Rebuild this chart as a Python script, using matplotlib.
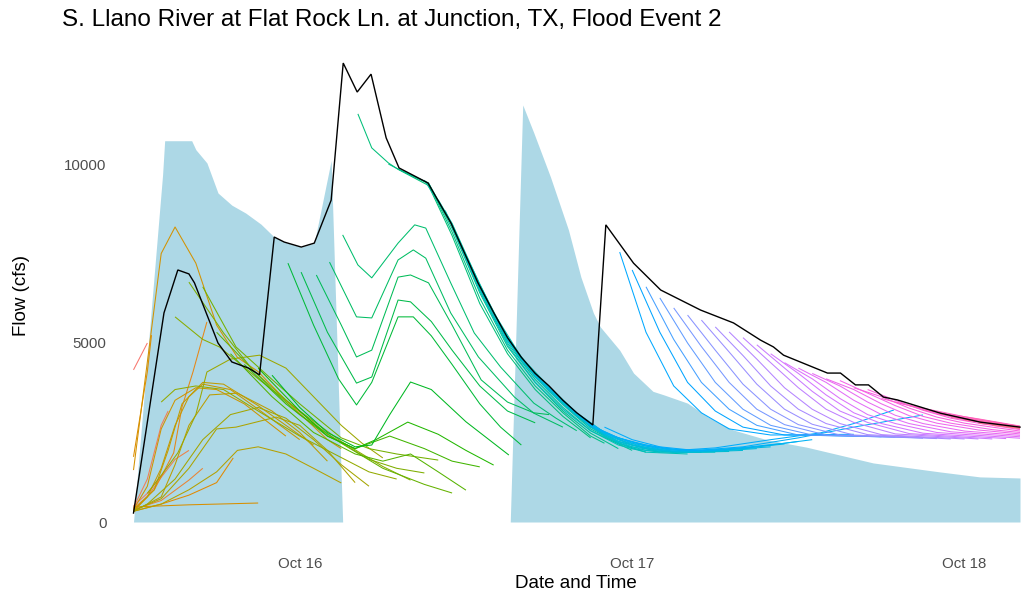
import numpy as np
import matplotlib
matplotlib.use("Agg")
import matplotlib.pyplot as plt

# ---------------- data (hours relative to 2018-10-16 00:00) ----------------
BASE = np.datetime64("2018-10-16T00:00")

title = "S. Llano River at Flat Rock Ln. at Junction, TX, Flood Event 2"
x_title = "Date and Time"
y_title = "Flow (cfs)"
y_ticks = [0, 5000, 10000]
x_tick_labels = ["Oct 16", "Oct 17", "Oct 18"]
x_tick_hours = [0, 24, 48]

# light-blue area (two segments separated by a gap)
area_hours_a = [-12, -9.9, -9.75, -7.8, -7.5, -6.7, -5.9, -4.9, -3.9, -2.8, -1.84, -1.12, 0.11, 1.05, 2.27, 3.1]
area_vals_a = [0, 9700, 10650, 10650, 10400, 10030, 9190, 8850, 8630, 8320, 7960, 7820, 7680, 7790, 10100, 0]
area_hours_b = [15.2, 16.1, 16.9, 18.1, 19.4, 20.3, 21.2, 21.7, 23.1, 24.1, 25.5, 26.3, 28, 29.5, 31.3, 33.8, 36.6, 41.4, 46.2, 49.1, 52]
area_vals_b = [0, 11650, 10870, 9640, 8160, 6840, 5840, 5450, 4800, 4160, 3650, 3550, 3320, 2930, 2570, 2290, 2090, 1650, 1400, 1260, 1230]

# black line
obs_hours = [-12, -9.8, -8.8, -8, -7.6, -5.9, -4.9, -3.7, -2.9, -1.84, -1.12, 0.11, 1.05, 2.27, 3.14, 4.15,
             5.15, 6.24, 7.17, 9.26, 10.92, 12.87, 14, 15, 16, 17, 18, 19, 20, 21.16, 22.1, 24.1, 26.06, 28.94,
             31.32, 33.27, 34.2, 34.93, 38.1, 39.04, 40.12, 41.06, 42.14, 43.15, 46.25, 49.13, 52]
obs_vals = [250, 5840, 7040, 6930, 6680, 5000, 4470, 4300, 4110, 7960, 7820, 7680, 7790, 8990, 12820, 12010,
            12510, 10730, 9890, 9470, 8350, 6680, 5850, 5150, 4600, 4150, 3800, 3400, 3050, 2710, 8300, 7230, 6480, 5920,
            5560, 5080, 4890, 4660, 4160, 4160, 3830, 3830, 3490, 3410, 3040, 2790, 2650]

# forecast runs, one list of (hour, flow) per issue time, in issue order
fc_early = [
    [(-12, 4250), (-11, 5000)],
    [(-12, 450), (-11, 800), (-10, 1300)],
    [(-12, 400), (-11, 1200), (-10, 2700), (-9.5, 3100)],
    [(-12, 380), (-11, 700), (-10, 1250), (-9, 1750), (-8, 2000)],
    [(-12, 350), (-10, 600), (-8, 1170), (-7, 1500)],
    [(-12, 350), (-10.5, 900), (-9.1, 1930), (-8.5, 3210), (-7.7, 4200), (-6.7, 5590)],
    [(-12, 300), (-10, 500), (-8, 750), (-6, 1100), (-4.8, 1790)],
    [(-12, 1820), (-11, 4200), (-10.7, 5220)],
    [(-12, 420), (-8, 480), (-3, 530)],
    [(-12, 1450), (-10, 7500), (-9, 8240), (-7.5, 7230), (-6, 5500), (-4.5, 4600), (-3, 4200), (-1, 3400), (0.5, 2850), (2, 2300), (3, 2050)],
    [(-12, 350), (-11, 1000), (-10, 2600), (-9, 3400), (-7.5, 3750), (-6, 3700), (-4, 3300), (-2, 2700), (-1, 2400)],
    [(-12, 300), (-11, 700), (-10, 1500), (-9, 2700), (-8, 3500), (-7, 3850), (-5, 3700), (-3, 3150), (0, 2300)],
    [(-12, 320), (-10.5, 900), (-9.5, 2000), (-8.5, 3300), (-7, 3900), (-5.5, 3850), (-3, 3250), (-1, 2700), (1, 2150)],
    [(-12, 300), (-10, 700), (-9, 1600), (-8, 2700), (-6.5, 3550), (-4.5, 3600), (-2, 3100), (0, 2500), (2, 1700)],
    [(-12, 300), (-10, 500), (-8, 900), (-6, 1400), (-4.5, 2000), (-3, 2100), (-1, 1900), (1, 1500), (3, 1090)],
    [(-12, 320), (-10, 650), (-8, 1500), (-6, 2600), (-4.6, 2650), (-1.7, 2930), (0, 2700), (2, 2000), (4, 1100)],
    [(-12, 300), (-11, 500), (-9, 1200), (-7, 2300), (-5, 3000), (-3, 3200), (-1, 2900), (1, 2300), (3, 1600), (5, 1000)],
]
fc_middle = [
    [(-11, 800), (-10, 1300), (-8.8, 1930), (-7.5, 3000), (-6.7, 4190), (-5, 4550), (-2.9, 4660), (-1, 4300), (1, 3500), (3, 2700), (4.5, 2200), (6, 1790)],
    [(-10, 3350), (-9, 3700), (-7.5, 3800), (-5.5, 3700), (-3, 3100), (0, 2400), (3, 1800), (5, 1400), (7, 1200)],
    [(-9, 5730), (-7, 5100), (-5.8, 4890), (-2.9, 3970), (0, 3100), (3, 2250), (6, 1550), (8, 1170)],
    [(-8, 6700), (-5.5, 5280), (-3.4, 4250), (-1, 3410), (2, 2450), (5, 1750), (7, 1500), (9, 1370)],
    [(-7, 6570), (-4.6, 4890), (-2.2, 4050), (0, 3300), (3, 2350), (5, 2050), (7, 1900), (10, 1730)],
    [(-6, 5300), (-4, 4500), (-2, 3700), (0, 3000), (3, 2200), (6, 1500), (9, 1050), (11, 810)],
    [(-5, 4700), (-2, 3500), (1, 2500), (4, 1900), (6, 1700), (8, 1900), (10, 1400), (12, 890)],
    [(-4, 4400), (-1, 3300), (2, 2400), (4, 2050), (6.5, 2400), (9, 2050), (11, 1700), (13, 1540)],
    [(-3, 4300), (0, 3100), (2, 2400), (4, 2050), (5.5, 2300), (7.8, 2790), (10, 2450), (12, 2000), (14, 1590)],
    [(-2, 4100), (0, 3200), (2, 2500), (4, 2100), (5.2, 2150), (6.5, 3000), (8, 3910), (9.5, 3700), (12, 2800), (15.1, 1870)],
    [(-0.85, 7230), (1, 5500), (2.8, 4000), (4.1, 3270), (5.2, 3900), (7.1, 5730), (8.2, 5730), (9.5, 5200), (11, 4400), (13, 3300), (14.5, 2650), (16, 2150)],
    [(0.1, 6980), (2, 5300), (4.1, 3880), (5.2, 4050), (7.1, 6200), (8, 6150), (9.5, 5600), (11, 4800), (13, 3800), (15, 3100), (17, 2770)],
    [(1.2, 6900), (3, 5500), (4.1, 4610), (5.2, 4800), (7.1, 6840), (8, 6900), (9.3, 6680), (11, 5500), (13.1, 3970), (15, 3350), (16.9, 3050), (18, 3000)],
    [(2.15, 7260), (4.1, 5730), (5.2, 5700), (7.1, 7320), (8.2, 7600), (9.1, 7370), (10.9, 5840), (12.9, 4610), (15.5, 3490), (16.9, 3040), (19, 2650)],
    [(3.1, 8020), (4.2, 7180), (5.2, 6820), (7.1, 7790), (8.3, 8300), (9.1, 8210), (10.9, 6680), (12.6, 5280), (14.5, 4330), (16.9, 3320), (18.5, 2900), (20, 2550)],
]
fc_recession = [
    [(4.2, 11400), (5.2, 10450), (6.4, 10030), (7.1, 9850), (9.3, 9400), (11, 8000), (13, 6100), (15, 4700), (17, 3700), (19, 2950), (21, 2350)],
    [(6.4, 10000), (7.1, 9860), (9.3, 9450), (11, 8100), (13, 6250), (15, 4800), (17, 3800), (19, 3050), (21, 2400), (22, 2200)],
    [(7.1, 9860), (9.3, 9460), (11, 8200), (13, 6400), (15, 4900), (17, 3900), (19, 3100), (21, 2480), (23, 2050)],
    [(8, 9700), (9.3, 9470), (11, 8280), (13, 6500), (15, 5000), (17, 3980), (19, 3200), (21, 2550), (24, 2000)],
    [(9, 9550), (11, 8320), (13, 6580), (15, 5080), (17, 4050), (19, 3280), (21, 2600), (23, 2200), (25, 1950)],
    [(10, 9000), (11, 8340), (13, 6630), (15, 5130), (17, 4100), (19, 3330), (21, 2650), (23, 2250), (26, 1950)],
    [(10.5, 8700), (12, 7450), (14, 5850), (16, 4600), (18, 3780), (20, 3050), (22, 2500), (24, 2150), (27, 1950)],
    [(11, 8250), (13, 6450), (15, 4950), (17, 3900), (19, 3150), (21, 2550), (23, 2150), (25, 1950), (28, 1900)],
    [(12, 7350), (14, 5700), (16, 4500), (18, 3650), (20, 2950), (22, 2400), (24, 2050), (26, 1950), (29, 1950)],
    [(13, 6550), (15, 5050), (17, 4050), (19, 3300), (21, 2650), (23, 2200), (25, 2000), (27, 1950), (30, 1950)],
    [(14, 5800), (16, 4550), (18, 3700), (20, 3000), (22, 2400), (24, 2100), (26, 1980), (28, 1950), (31, 1970)],
    [(15, 5100), (17, 4100), (19, 3350), (21, 2680), (23, 2250), (25, 2050), (27, 1960), (29, 1960), (32, 2000)],
    [(16, 4550), (18, 3750), (20, 3020), (22, 2450), (24, 2150), (26, 2000), (28, 1960), (30, 1980), (33, 2050)],
    [(17, 4100), (19, 3380), (21, 2700), (23, 2300), (25, 2080), (27, 1980), (29, 1970), (31, 2020), (34, 2100)],
    [(18, 3750), (20, 3030), (22, 2500), (24, 2200), (26, 2040), (28, 1980), (30, 2000), (32, 2060), (35, 2180)],
    [(19, 3380), (21, 2700), (23, 2350), (25, 2120), (27, 2010), (29, 1990), (31, 2030), (33, 2100), (36, 2250)],
    [(20, 3030), (22, 2480), (24, 2230), (26, 2070), (28, 2000), (30, 2020), (32, 2080), (35, 2200), (37, 2300)],
    [(21, 2700), (23, 2350), (25, 2150), (27, 2030), (29, 2010), (32, 2100), (36, 2350), (40, 2650), (45, 2990)],
    [(22, 2650), (24, 2300), (26, 2100), (28, 2020), (30, 2070), (34, 2300), (37.6, 2490), (40, 2750), (42.9, 3130)],
]
fc_late = [
    [(23.1, 7540), (25, 5300), (27, 3800), (29, 3050), (31, 2600), (34, 2430), (40, 2450)],
    [(24, 7040), (26, 5300), (28, 3900), (30, 3100), (32, 2650), (35, 2430), (41, 2400)],
    [(25, 6570), (27, 5100), (29, 3900), (31, 3150), (33, 2700), (36, 2430), (42, 2380)],
    [(26, 6260), (28, 5000), (30, 3900), (32, 3150), (34, 2700), (37, 2430), (43, 2370)],
    [(27, 5980), (29, 4900), (31, 3900), (33, 3150), (35, 2720), (38, 2430), (44, 2360)],
    [(28, 5780), (30, 4800), (32, 3850), (34, 3150), (36, 2720), (39, 2430), (45, 2340)],
    [(29, 5640), (31, 4750), (33, 3850), (35, 3150), (37, 2730), (40, 2430), (46, 2330)],
    [(30, 5450), (32, 4650), (34, 3800), (36, 3150), (38, 2750), (41, 2440), (47, 2320)],
    [(31, 5310), (33, 4550), (35, 3750), (37, 3150), (39, 2750), (42, 2440), (48, 2320)],
    [(32, 5150), (34, 4450), (36, 3750), (38, 3150), (40, 2780), (43, 2460), (49, 2320)],
    [(33, 4950), (35, 4300), (37, 3650), (39, 3100), (41, 2780), (44, 2470), (50, 2320)],
    [(34, 4700), (36, 4150), (38, 3550), (40, 3050), (42, 2750), (45, 2480), (51, 2330)],
    [(35, 4450), (37, 4000), (39, 3450), (41, 3000), (43, 2750), (46, 2500), (52, 2340)],
    [(36, 4300), (38, 3900), (40, 3400), (42, 3000), (44, 2750), (47, 2520), (52, 2380)],
    [(37, 4150), (39, 3800), (41, 3350), (43, 2980), (45, 2750), (48, 2540), (52, 2420)],
    [(38, 4000), (40, 3700), (42, 3300), (44, 2970), (46, 2760), (49, 2570), (52, 2460)],
    [(39, 3950), (41, 3600), (43, 3250), (45, 2950), (47, 2760), (50, 2580), (52, 2500)],
    [(40, 3750), (42, 3500), (44, 3180), (46, 2930), (48, 2760), (52, 2540)],
    [(41, 3700), (43, 3400), (45, 3120), (47, 2900), (49, 2760), (52, 2580)],
    [(42, 3450), (44, 3250), (46, 3030), (48, 2860), (50, 2740), (52, 2610)],
    [(43, 3350), (45, 3170), (47, 2980), (49, 2840), (52, 2640)],
    [(44, 3250), (46, 3100), (48, 2940), (50, 2800), (52, 2660)],
    [(45, 3130), (47, 3000), (49, 2880), (52, 2680)],
    [(46, 3020), (48, 2900), (50, 2800), (52, 2670)],
    [(47, 2920), (49, 2820), (52, 2660)],
    [(48, 2840), (50, 2760), (52, 2640)],
    [(49, 2760), (52, 2630)],
    [(50, 2700), (52, 2620)],
    [(51, 2660), (52, 2620)],
]
N_RUNS = 81  # number of forecast issue times (colour levels)


# ---------------- helpers ----------------
def hcl_to_hex(h, c=100.0, l=65.0):
    """CIE-LUV polar (as used by R's hcl()) to sRGB hex."""
    hr = np.deg2rad(h)
    U, V = c * np.cos(hr), c * np.sin(hr)
    Xn, Yn, Zn = 95.047, 100.0, 108.883
    Y = Yn * ((l + 16) / 116) ** 3 if l > 8 else Yn * l / 903.3
    t = Xn + 15 * Yn + 3 * Zn
    un, vn = 4 * Xn / t, 9 * Yn / t
    u = U / (13 * l) + un
    v = V / (13 * l) + vn
    X = 9.0 * Y * u / (4 * v)
    Z = -X / 3 - 5 * Y + 3 * Y / v
    X, Y, Z = X / 100, Y / 100, Z / 100
    rgb = np.array([3.240479 * X - 1.537150 * Y - 0.498535 * Z,
                    -0.969256 * X + 1.875992 * Y + 0.041556 * Z,
                    0.055648 * X - 0.204043 * Y + 1.057311 * Z])
    rgb = np.where(rgb <= 0.0031308, 12.92 * rgb, 1.055 * np.power(np.clip(rgb, 0, None), 1 / 2.4) - 0.055)
    rgb = np.clip(rgb, 0, 1)
    return matplotlib.colors.to_hex(rgb)


def hue_pal(n):
    hues = np.linspace(15, 375, n + 1)[:-1]
    return [hcl_to_hex(h % 360) for h in hues]


def to_time(hours):
    secs = np.round(np.asarray(hours, dtype=float) * 3600).astype("int64")
    return BASE + secs.astype("timedelta64[s]")


# ---------------- figure ----------------
W, H, DPI = 1021, 597, 100
fig = plt.figure(figsize=(W / DPI, H / DPI), dpi=DPI)
fig.patch.set_facecolor("white")

px_left, px_right, px_top, px_bottom = 112, 1040, 40, 545
ax = fig.add_axes([px_left / W, 1 - px_bottom / H, (px_right - px_left) / W, (px_bottom - px_top) / H])

FONT = ["Liberation Sans", "DejaVu Sans"]

# area
for hh, vv in [(area_hours_a, area_vals_a), (area_hours_b, area_vals_b)]:
    ax.fill_between(to_time(hh), 0, vv, color="#ADD8E6", linewidth=0, zorder=1)

# forecasts
runs = fc_early + fc_middle + fc_recession + fc_late
colors = hue_pal(N_RUNS)
for i, run in enumerate(runs):
    hh = [p[0] for p in run]
    vv = [p[1] for p in run]
    ax.plot(to_time(hh), vv, color=colors[i], linewidth=0.75, zorder=2 + i * 0.001,
            solid_joinstyle="round", solid_capstyle="butt")

# observed/black
ax.plot(to_time(obs_hours), obs_vals, color="black", linewidth=1.0, zorder=5, solid_joinstyle="miter")

# axes limits: -12 h at px 133.5, 52 h at px 1020
pph = (1020 - 133.5) / 64.0
h_left = -12 - (133.5 - px_left) / pph
h_right = 52 + (px_right - 1020) / pph
ax.set_xlim(to_time([h_left])[0], to_time([h_right])[0])
ppv = (522 - 164) / 10000.0
ax.set_ylim(-(px_bottom - 522) / ppv, (522 - px_top) / ppv)

ax.set_xticks(to_time(x_tick_hours))
ax.set_xticklabels(x_tick_labels)
ax.set_yticks(y_ticks)
ax.set_yticklabels([str(v) for v in y_ticks])
for s in ax.spines.values():
    s.set_visible(False)
ax.tick_params(axis="both", length=0, colors="#4D4D4D", labelsize=10.8)
ax.tick_params(axis="x", pad=9)
ax.tick_params(axis="y", pad=4)
for lab in ax.get_xticklabels() + ax.get_yticklabels():
    lab.set_family(FONT)
ax.grid(False)
ax.set_facecolor("white")

fig.text(62 / W, 1 - 20 / H, title, ha="left", va="center", fontsize=17.5, family=FONT, color="black")
fig.text(576 / W, 1 - 584 / H, x_title, ha="center", va="center", fontsize=13.5, family=FONT, color="black")
fig.text(22 / W, 1 - 296 / H, y_title, ha="center", va="center", rotation=90, fontsize=13.5, family=FONT, color="black")

fig.savefig("out.png", dpi=DPI, facecolor="white")
